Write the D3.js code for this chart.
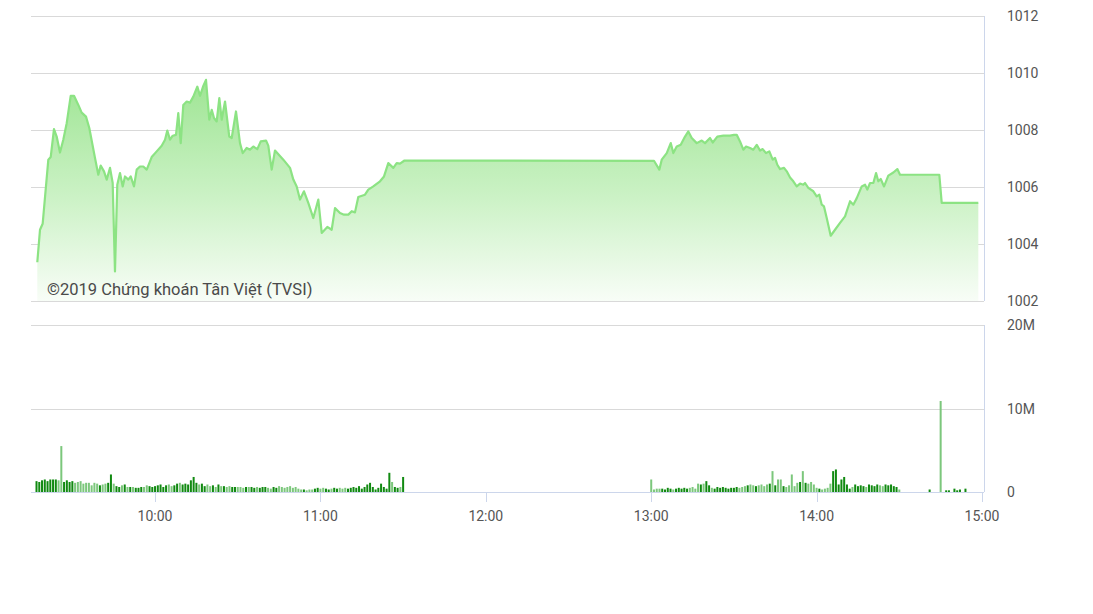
<!DOCTYPE html>
<html><head><meta charset="utf-8">
<script src="https://cdn.jsdelivr.net/npm/d3@7"></script>
<style>body{margin:0;background:#fff;} svg text{font-family:Roboto, "Noto Sans", sans-serif;}</style>
</head><body><svg id="c" width="1093" height="614"></svg>
<script>
// ---------- DATA ----------
const priceTimes = [
 "09:17:17","09:18:16","09:19:14","09:21:17","09:22:09","09:23:20","09:24:19","09:25:31","09:26:43","09:27:57",
 "09:29:24","09:30:36","09:32:10","09:33:23","09:34:57","09:36:09","09:38:13","09:39:25","09:40:17","09:41:29",
 "09:42:28","09:43:40","09:44:38","09:45:28","09:46:18","09:47:17","09:48:16","09:49:06","09:50:18","09:51:10",
 "09:52:22","09:53:21","09:54:32","09:55:44","09:56:59","09:58:47","10:00:36","10:02:25","10:03:37","10:04:27",
 "10:05:26","10:06:25","10:07:36","10:08:26","10:09:19","10:10:15","10:11:29","10:12:41","10:13:53","10:15:20",
 "10:16:19","10:17:31","10:18:29","10:19:41","10:20:34","10:21:23","10:22:22","10:23:19","10:24:11","10:25:23",
 "10:26:56","10:27:49","10:29:22","10:30:49","10:31:48","10:33:15","10:34:27","10:35:39","10:37:06","10:38:20",
 "10:40:15","10:41:05","10:42:19","10:43:31","10:46:32","10:48:58","10:50:10","10:51:23","10:52:35","10:54:02",
 "10:55:36","10:57:25","10:59:14","11:00:28","11:02:30","11:04:05","11:05:17","11:07:06","11:08:33","11:10:07",
 "11:11:21","11:12:32","11:13:44","11:16:10","11:17:22","11:19:11","11:21:37","11:23:04","11:24:37","11:26:26",
 "11:27:40","11:28:52","11:30:30",
 "13:01:00","13:02:56","13:03:49","13:05:38","13:07:05","13:08:01","13:09:15","13:10:43","13:12:16","13:13:28",
 "13:14:42","13:16:31","13:18:20","13:19:31","13:21:20","13:22:19","13:23:59","13:26:10","13:28:35","13:30:02",
 "13:31:01","13:32:13","13:33:25","13:34:24","13:35:51","13:37:02","13:38:17","13:39:28","13:40:27","13:41:39",
 "13:42:51","13:44:05","13:44:55","13:45:45","13:46:44","13:48:11","13:49:10","13:50:22","13:51:33","13:52:47",
 "13:53:59","13:55:11","13:55:48","13:56:59","13:58:49","14:00:02","14:00:59","14:01:52","14:02:41","14:03:40",
 "14:05:07","14:06:41","14:08:30","14:10:19","14:12:08","14:13:19","14:14:34","14:16:22","14:17:34","14:18:24",
 "14:19:23","14:20:35","14:21:34","14:22:23","14:23:16","14:24:28","14:26:01","14:27:50","14:29:17","14:30:16",
 "14:44:31","14:45:23","14:58:40"
];
const priceValues = [
 1003.36,1004.50,1004.71,1006.96,1007.05,1008.03,1007.77,1007.21,1007.66,1008.24,
 1009.20,1009.20,1008.88,1008.61,1008.47,1008.07,1007.02,1006.43,1006.75,1006.55,
 1006.26,1006.67,1006.14,1003.04,1006.08,1006.49,1006.02,1006.37,1006.26,1006.37,
 1006.02,1006.61,1006.72,1006.72,1006.61,1007.05,1007.25,1007.45,1007.66,1007.98,
 1007.66,1007.80,1007.83,1008.59,1007.54,1008.88,1009.00,1008.96,1009.17,1009.52,
 1009.20,1009.55,1009.76,1008.36,1008.71,1008.42,1008.30,1009.12,1008.36,1009.00,
 1007.77,1007.72,1008.65,1007.54,1007.19,1007.37,1007.31,1007.42,1007.33,1007.60,
 1007.63,1007.45,1006.61,1007.28,1006.96,1006.67,1006.26,1006.02,1005.56,1005.85,
 1005.44,1004.91,1005.56,1004.39,1004.60,1004.50,1005.26,1005.09,1005.03,1005.03,
 1005.15,1005.11,1005.65,1005.73,1005.91,1006.02,1006.20,1006.37,1006.84,1006.67,
 1006.84,1006.82,1006.93,
 1006.92,1006.61,1006.96,1007.19,1007.54,1007.19,1007.42,1007.48,1007.77,1007.95,
 1007.72,1007.54,1007.63,1007.54,1007.72,1007.56,1007.77,1007.80,1007.80,1007.83,
 1007.83,1007.60,1007.31,1007.42,1007.37,1007.31,1007.48,1007.28,1007.33,1007.19,
 1007.25,1006.96,1007.02,1006.78,1006.63,1006.67,1006.55,1006.33,1006.20,1006.02,
 1006.12,1006.08,1006.14,1005.97,1005.85,1005.67,1005.73,1005.38,1005.32,1004.91,
 1004.29,1004.50,1004.74,1004.97,1005.50,1005.38,1005.61,1006.02,1006.08,1005.91,
 1006.14,1006.14,1006.49,1006.20,1006.28,1006.02,1006.40,1006.51,1006.63,1006.43,
 1006.43,1005.44,1005.44
];
// volume in millions, one bar per minute
const morningStart = "09:17";
const morningVolumes = [
 1.3,1.2,1.4,1.5,1.3,1.5,1.5,1.5,1.4,
 5.5,
 1.2,1.4,1.2,1.3,1.1,1.2,1.3,1.0,1.1,1.1,0.8,1.1,1.0,0.8,
 0.9,1.0,1.1,
 2.1,
 1.0,0.7,0.6,0.8,0.9,0.6,0.6,0.6,0.5,0.5,0.6,0.6,0.8,0.7,0.6,
 0.7,0.8,0.9,0.6,0.8,0.9,0.7,0.8,1.0,1.1,0.9,
 1.0,0.9,1.4,1.8,1.1,
 0.9,1.0,0.7,0.9,0.7,0.8,0.6,0.9,0.7,0.7,0.6,0.7,0.6,0.6,0.6,
 0.6,0.5,0.6,0.6,0.6,0.5,0.6,0.5,0.6,0.6,0.5,0.4,0.6,0.5,0.7,
 0.6,0.5,0.6,0.7,0.5,0.6,0.4,0.3,0.3,0.2,0.3,0.3,0.4,0.5,0.4,
 0.5,0.4,0.3,0.4,0.5,0.4,0.5,0.4,0.5,0.4,0.5,0.6,0.5,0.7,0.4,
 0.6,0.9,1.1,0.6,0.3,0.5,1.0,0.6,0.4,2.3,1.2,0.6,0.5,0.6,1.8
];
const afternoonStart = "13:00";
const afternoonVolumes = [
 1.5,
 0.3,0.4,0.4,0.4,0.3,0.5,0.4,0.3,0.4,0.5,
 0.4,0.5,0.4,0.5,0.6,0.4,
 1.0,0.9,1.0,1.3,0.8,0.5,0.4,0.6,
 0.5,0.6,0.5,0.4,0.5,0.5,0.6,0.5,0.6,0.7,
 0.8,0.9,0.8,0.7,0.8,0.9,0.7,0.9,1.0,
 2.5,
 0.8,1.5,1.5,0.7,0.6,0.8,
 2.1,
 0.7,1.1,1.2,
 2.5,
 1.1,1.0,1.2,0.9,0.5,
 0.4,0.3,0.4,0.5,1.0,
 2.5,2.7,
 0.9,1.5,1.8,
 0.9,0.4,0.6,0.9,0.7,0.8,0.7,0.6,0.9,0.8,0.7,0.9,0.8,0.7,0.9,0.8,0.9,0.7,0.6,0.3
];
const closeTimes = ["14:41","14:45","14:47","14:48","14:50","14:51","14:52","14:54"];
const closeVolumes = [0.3,10.9,0.2,0.2,0.4,0.2,0.3,0.4];

const priceTicks = [1002,1004,1006,1008,1010,1012];
const volumeTicks = [0,10,20];
const volumeTickLabels = ["0","10M","20M"];
const timeTicks = ["10:00","11:00","12:00","13:00","14:00","15:00"];
const domainTimes = ["09:15","15:00"];
const watermark = "©2019 Chứng khoán Tân Việt (TVSI)";

// ---------- BUILD ----------
const pHMS = d3.timeParse("%H:%M:%S"), pHM = d3.timeParse("%H:%M");
const price = priceTimes.map((t,i)=>({t:pHMS(t), v:priceValues[i]}));
const volumes = [];
morningVolumes.forEach((v,i)=>volumes.push({t:d3.timeMinute.offset(pHM(morningStart),i), v}));
afternoonVolumes.forEach((v,i)=>volumes.push({t:d3.timeMinute.offset(pHM(afternoonStart),i), v}));
closeTimes.forEach((t,i)=>volumes.push({t:pHM(t), v:closeVolumes[i]}));

const L=31, R=984;
const x = d3.scaleTime().domain(domainTimes.map(pHM)).range([31, 982]);
const yP = d3.scaleLinear().domain([1002,1012]).range([301,16]);
const yV = d3.scaleLinear().domain([0,20]).range([492,325]);

const svg = d3.select("#c");
const defs = svg.append("defs");
const grad = defs.append("linearGradient").attr("id","g").attr("gradientUnits","userSpaceOnUse")
  .attr("x1",0).attr("x2",0).attr("y1",yP(1010)).attr("y2",yP(1002));
grad.append("stop").attr("offset",0).attr("stop-color","#9ce491");
grad.append("stop").attr("offset",0.55).attr("stop-color","#ccf2c6");
grad.append("stop").attr("offset",1).attr("stop-color","#f8fdf7");

// gridlines
svg.append("g").selectAll("line").data(priceTicks).join("line")
  .attr("x1",L).attr("x2",R).attr("y1",d=>Math.round(yP(d))+0.5).attr("y2",d=>Math.round(yP(d))+0.5)
  .attr("stroke","#d9d9d9").attr("stroke-width",1);
svg.append("g").selectAll("line").data(volumeTicks.slice(1)).join("line")
  .attr("x1",L).attr("x2",R).attr("y1",d=>Math.round(yV(d))+0.5).attr("y2",d=>Math.round(yV(d))+0.5)
  .attr("stroke","#d9d9d9").attr("stroke-width",1);

// area + line
const area = d3.area().x(d=>x(d.t)).y0(yP(1002)).y1(d=>yP(d.v));
const line = d3.line().x(d=>x(d.t)).y(d=>yP(d.v));
svg.append("path").datum(price).attr("d",area).attr("fill","url(#g)");
svg.append("path").datum(price).attr("d",line).attr("fill","none")
  .attr("stroke","#8ce383").attr("stroke-width",2.2).attr("stroke-linejoin","round");

// watermark
svg.append("text").attr("x",47).attr("y",295).attr("font-size",16.5).attr("fill","#4a4a4a")
  .text(watermark);

// volume bars, coloured by price change over the minute
const bis = d3.bisector(d=>d.t).left;
function priceAt(t){
  const i = bis(price,t);
  if(i<=0) return price[0].v;
  if(i>=price.length) return price[price.length-1].v;
  const a=price[i-1], b=price[i];
  return a.v + (b.v-a.v)*(t-a.t)/(b.t-a.t);
}
svg.append("g").selectAll("rect").data(volumes).join("rect")
  .attr("x",d=>x(d.t)-1).attr("width",2)
  .attr("y",d=>yV(d.v)).attr("height",d=>yV(0)-yV(d.v))
  .attr("fill",d=>{
    const up = priceAt(d.t) >= priceAt(d3.timeMinute.offset(d.t,-1));
    return up ? "#118a11" : "#7cc77c";
  });

// right borders
svg.append("line").attr("x1",R+0.5).attr("x2",R+0.5).attr("y1",16).attr("y2",301).attr("stroke","#ccd6eb");
svg.append("line").attr("x1",R+0.5).attr("x2",R+0.5).attr("y1",325).attr("y2",492).attr("stroke","#ccd6eb");
// x axis
svg.append("line").attr("x1",L).attr("x2",R).attr("y1",492.5).attr("y2",492.5).attr("stroke","#ccd6eb");
const xt = svg.append("g");
xt.selectAll("line").data(timeTicks).join("line")
  .attr("x1",d=>Math.round(x(pHM(d)))+0.5).attr("x2",d=>Math.round(x(pHM(d)))+0.5)
  .attr("y1",492).attr("y2",502).attr("stroke","#ccd6eb");
xt.selectAll("text").data(timeTicks).join("text")
  .attr("x",d=>x(pHM(d))).attr("y",521).attr("text-anchor","middle")
  .attr("font-size",14).attr("fill","#555").text(d=>d);

// y labels
svg.append("g").selectAll("text").data(priceTicks).join("text")
  .attr("x",1007).attr("y",d=>yP(d)+5).attr("font-size",14).attr("fill","#555").text(d=>d);
svg.append("g").selectAll("text").data(volumeTicks).join("text")
  .attr("x",1007).attr("y",d=>yV(d)+5).attr("font-size",14).attr("fill","#555")
  .text((d,i)=>volumeTickLabels[i]);
</script></body></html>
